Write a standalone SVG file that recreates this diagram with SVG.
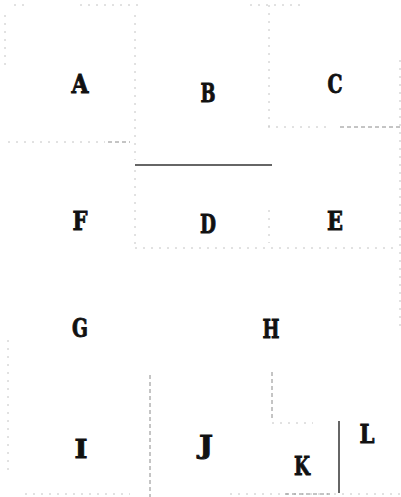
<svg xmlns="http://www.w3.org/2000/svg" width="401" height="497" viewBox="0 0 401 497">
<style>
.lbl{font-family:"DejaVu Serif","Liberation Serif",serif;font-weight:bold;font-size:26px;fill:#111;stroke:#111;stroke-width:0.9;text-anchor:middle}
.faint{stroke:#c4c4c4;stroke-width:1;fill:none;stroke-dasharray:2 6}
.mid{stroke:#8a8a8a;stroke-width:1;fill:none;stroke-dasharray:4 3}
.solid{stroke:#333;stroke-width:1.5;fill:none}
</style>
<rect width="401" height="497" fill="#fff"/>
<g id="walls">
<path class="faint" d="M14 5H30M80 5H140M250 5H300"/>
<path class="faint" d="M5 15V70M8 340V470"/>
<path class="faint" d="M135 15V160M135 170V250"/>
<path class="faint" d="M8 142H105"/>
<path class="mid" d="M108 142H130"/>
<path class="solid" d="M135 165H272"/>
<path class="faint" d="M269 5V128M269 210V243"/>
<path class="faint" d="M268 127H330"/>
<path class="mid" d="M340 127H400"/>
<path class="faint" d="M400 60V250M400 252V330"/>
<path class="faint" d="M135 248H395"/>
<path class="mid" d="M150 375V497"/>
<path class="mid" d="M272 372V420"/>
<path class="faint" d="M272 423H313"/>
<path class="solid" d="M339 421V493" stroke-width="1.2"/>
<path class="faint" d="M25 494H130M230 494H400"/>
<path class="mid" d="M285 494H330"/>
</g>
<g id="A"><text class="lbl" x="80" y="93" textLength="17" lengthAdjust="spacingAndGlyphs">A</text></g>
<g id="B"><text class="lbl" x="208" y="102" textLength="15" lengthAdjust="spacingAndGlyphs">B</text></g>
<g id="C"><text class="lbl" x="335" y="93" textLength="15" lengthAdjust="spacingAndGlyphs">C</text></g>
<g id="F"><text class="lbl" x="80" y="230" textLength="15" lengthAdjust="spacingAndGlyphs">F</text></g>
<g id="D"><text class="lbl" x="208" y="233" textLength="16" lengthAdjust="spacingAndGlyphs">D</text></g>
<g id="E"><text class="lbl" x="335" y="230" textLength="16" lengthAdjust="spacingAndGlyphs">E</text></g>
<g id="G"><text class="lbl" x="80" y="337" textLength="16" lengthAdjust="spacingAndGlyphs">G</text></g>
<g id="H"><text class="lbl" x="271" y="338" textLength="17" lengthAdjust="spacingAndGlyphs">H</text></g>
<g id="I"><text class="lbl" x="81" y="458" textLength="13" lengthAdjust="spacingAndGlyphs">I</text></g>
<g id="J"><text class="lbl" x="206" y="454" textLength="14" lengthAdjust="spacingAndGlyphs">J</text></g>
<g id="K"><text class="lbl" x="302" y="475" textLength="16" lengthAdjust="spacingAndGlyphs">K</text></g>
<g id="L"><text class="lbl" x="367" y="443" textLength="15" lengthAdjust="spacingAndGlyphs">L</text></g>
</svg>
